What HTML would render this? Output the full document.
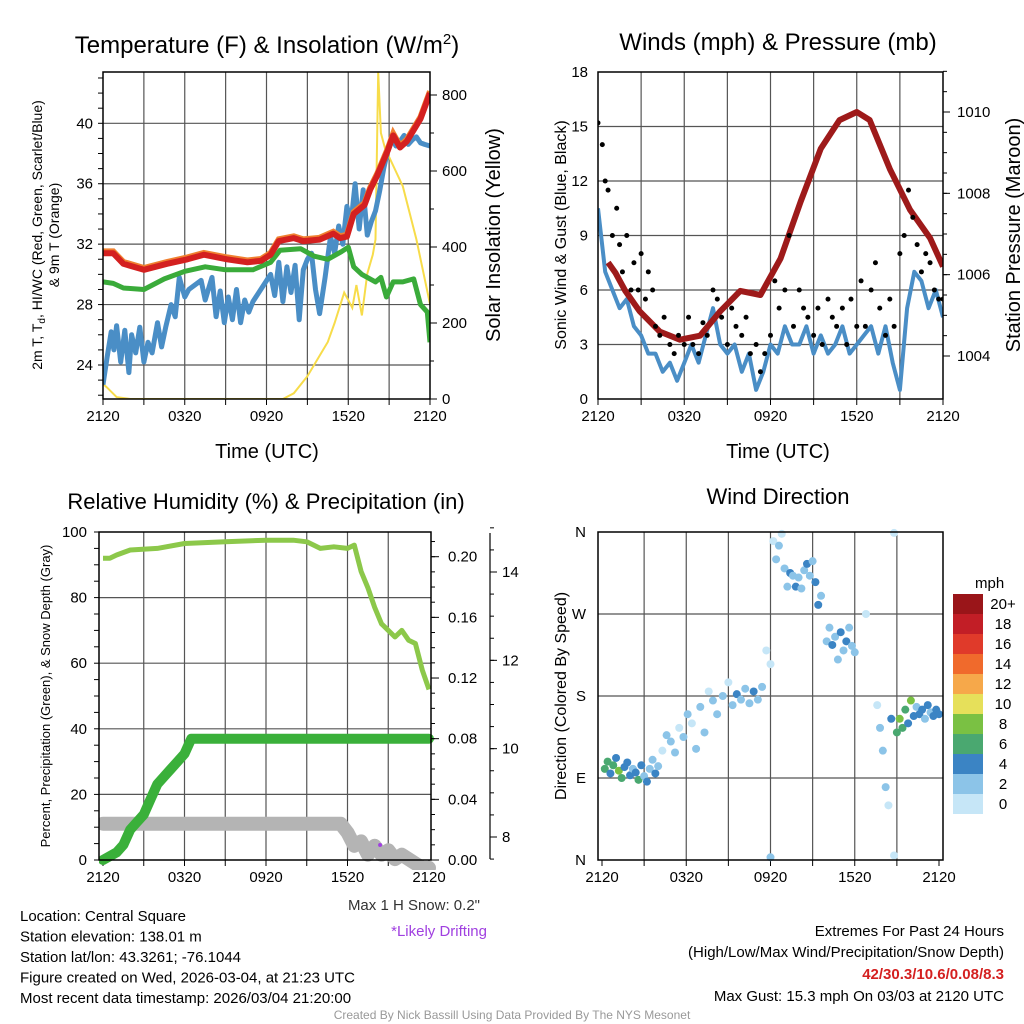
<!DOCTYPE html>
<html><head><meta charset="utf-8"><style>
body{margin:0;background:#fff;}
svg{display:block;font-family:"Liberation Sans",sans-serif;}
</style></head><body>
<svg id="c" width="1024" height="1024" viewBox="0 0 1024 1024" xmlns="http://www.w3.org/2000/svg">
<rect width="1024" height="1024" fill="#fff"/>
</svg>
<script>
// ---------- data ----------
const xTickLabels = ["2120","0320","0920","1520","2120"];
const tempTicks = [24,28,32,36,40];
const solarTicks = [0,200,400,600,800];
const windTicks = [0,3,6,9,12,15,18];
const presTicks = [1004,1006,1008,1010];
const rhTicks = [0,20,40,60,80,100];
const precipTicks = [0,0.04,0.08,0.12,0.16,0.2];
const snowTicks = [8,10,12,14];
const dirTicks = ["N","E","S","W","N"];

const redHours = [0,0.75,1.5,3,4.7,6.2,7.4,9.1,10.6,11.6,12.3,12.9,14,14.7,15.9,16.9,17.4,17.9,18.4,19.2,19.6,20.1,20.9,21.3,21.8,22.3,23.3,24];
const redVals = [31.4,31.4,30.7,30.3,30.7,31.0,31.3,31.0,30.8,30.9,31.3,32.2,32.4,32.2,32.3,32.7,32.4,32.5,34.0,34.6,35.6,36.5,38.2,39.2,38.4,38.8,40.3,42.0];
const greenHours = [0,0.75,1.5,3,4.5,6,7.5,9,11,12.3,13,14.5,15.5,16.5,17.5,18,18.4,19,20,20.4,20.8,21.3,22,22.8,23.3,23.8,24];
const greenVals = [29.5,29.4,29.1,29.0,29.7,30.2,30.5,30.3,30.3,30.8,31.6,31.7,31.2,31.0,31.5,31.8,30.5,30.0,29.5,29.8,28.5,29.5,29.5,29.7,28.0,27.5,25.5];
const blueHours = [0,0.3,0.6,0.8,1.0,1.3,1.6,1.9,2.1,2.4,2.7,3.0,3.3,3.6,4.0,4.3,4.6,5.0,5.3,5.6,6.0,6.3,7.2,7.5,8.0,8.3,8.6,8.9,9.2,9.5,9.8,10.1,10.4,10.7,11.0,12.3,12.6,12.9,13.2,13.5,13.8,14.1,14.4,14.7,15.0,15.3,15.6,15.9,16.3,16.7,17.0,17.3,17.6,17.9,18.2,18.5,18.8,19.1,19.4,19.7,20.0,20.3,20.6,20.9,21.2,21.5,21.8,22.1,22.4,22.7,23.0,23.3,23.6,24];
const blueVals = [22.7,24.5,26.2,25.0,26.6,24.2,26.3,23.5,26.0,24.8,26.5,24.2,25.5,24.8,26.8,25.2,26.5,28.0,27.2,29.8,28.5,29.0,29.6,28.3,29.8,27.2,28.9,26.8,28.5,27.0,29.0,26.8,28.3,27.5,28.2,30.0,28.6,30.8,28.2,30.5,28.8,30.6,27.0,30.3,31.0,31.4,29.0,27.4,29.8,32.5,31.4,33.2,32.0,34.5,33.4,36.0,33.0,35.6,32.6,33.5,34.2,35.5,37.0,38.2,39.0,38.5,38.8,39.2,38.6,38.9,39.1,38.7,38.6,38.5];
const solarHours = [0,0.3,1,2,13.2,14,15,16,16.5,17,17.7,18,18.3,18.6,19,19.4,19.8,20.0,20.2,20.4,20.7,22,23,24];
const solarVals = [40,30,5,0,0,15,60,120,150,200,280,260,240,300,220,330,380,420,860,700,660,560,420,250];

const presHours = [0.7,1.2,1.9,2.9,4.3,5.7,7.1,8.5,9.9,11.3,12.7,14.1,15.5,16.8,18,18.9,20.3,21.7,23.1,24];
const presVals = [1006.3,1006.05,1005.6,1005.1,1004.6,1004.4,1004.5,1005.1,1005.6,1005.5,1006.4,1007.8,1009.1,1009.8,1010.0,1009.8,1008.6,1007.6,1006.9,1006.2];
const windHours = [0,0.5,1,1.5,2,2.5,3,3.5,4,4.5,5,5.5,6,6.5,7,7.5,8,8.5,9,9.5,10,10.5,11,11.5,12,12.5,13,13.5,14,14.5,15,15.5,16,16.5,17,17.5,18,18.5,19,19.5,20,20.5,21,21.5,22,22.5,23,23.5,24];
const windVals = [10.5,7,6,5,5.5,4,3.5,2.5,2.5,1.5,2,1,2,3,2,3.5,5,3,2.5,3,1.5,2.5,0.5,1.5,3,2.5,4,3,3,4,2.5,3.5,2.5,3,4,2.5,3,3.5,4,2.5,4,2,0.5,5,7,6.5,5,6,4.5];
const gustHours = [0,0.3,0.5,0.7,1,1.3,1.5,1.7,2,2.3,2.5,2.8,3,3.3,3.5,3.8,4,4.3,4.6,5,5.3,5.6,6,6.3,6.6,7,7.3,7.6,8,8.3,8.6,9,9.3,9.6,10,10.3,10.6,11,11.3,11.6,12,12.3,12.6,13,13.3,13.6,14,14.3,14.6,15,15.3,15.6,16,16.3,16.6,17,17.3,17.6,18,18.3,18.6,19,19.3,19.6,20,20.3,20.6,21,21.3,21.6,21.9,22.2,22.5,22.8,23.1,23.4,23.7,24];
const gustVals = [15.2,14,12,11.5,9,10.5,8.5,7,9,6,7.5,6,8,5.5,7,6,4,3.5,4.5,3,2.5,3.5,3,4.5,3,2.5,4.2,3.5,6,5.5,4.5,3,5,4,3.5,4.5,2.5,3,1.5,2.5,3.5,6.5,5,6,9,4,6,5,4.5,3.5,5,3,5.5,4.5,4,5,3,5.5,4,6.5,4,6,7.5,5,3.5,5.5,4,8,9,11.5,10,8.5,7,8,7.5,6,5.5,5.5];

const rhHours = [0,0.5,1,2,4,6,9,12,14,15,16,17,18,18.5,19,19.5,20,20.5,21,21.5,22,22.5,23,23.5,24];
const rhVals = [92,92,93,94.5,95,96.5,97,97.5,97.5,97,95,95.5,95,96,88,83,77,72,70,68,70,67,66,58,52];
const precipHours = [0,1,1.5,2,2.5,3,3.5,4,4.5,5,5.5,6,6.5,24];
const precipVals = [0,0.005,0.01,0.02,0.025,0.03,0.04,0.05,0.055,0.06,0.065,0.07,0.08,0.08];
const snowHours = [0,17.5,18,18.5,19,19.5,20,20.5,21,21.5,22,22.5,23,23.5,24];
const snowVals = [8.3,8.3,8.1,7.8,7.9,7.6,7.8,7.6,7.7,7.5,7.6,7.5,7.4,7.3,7.3];

const dirHours = [0.2,0.4,0.6,0.8,1.0,1.2,1.4,1.6,1.8,2.0,2.2,2.4,2.6,2.8,3.0,3.2,3.4,3.6,3.8,4.0,4.3,4.6,4.9,5.2,5.5,5.8,6.1,6.4,6.7,7.0,7.3,7.6,7.9,8.2,8.6,9.0,9.3,9.6,9.9,10.2,10.5,10.8,11.1,11.4,11.7,12.0,12.0,12.2,12.4,12.6,12.8,13.0,13.2,13.4,13.6,13.8,14.0,14.2,14.4,14.6,14.8,15.0,15.2,15.4,15.6,16.0,16.2,16.4,16.6,16.8,17.0,17.2,17.4,17.6,17.8,18.0,18.8,19.6,19.8,20.0,20.2,20.4,20.6,20.8,20.8,21.0,21.2,21.4,21.6,21.8,22.0,22.2,22.4,22.6,22.8,23.0,23.2,23.4,23.6,23.8,24.0];
const dirVals = [100,108,95,104,112,98,90,102,107,93,100,96,88,104,92,86,100,110,95,103,120,137,130,118,145,135,160,150,122,168,140,185,175,160,180,195,170,182,176,188,172,185,176,190,230,3,215,350,330,345,358,320,300,315,312,300,310,298,318,325,312,328,305,280,290,240,255,236,245,220,250,230,240,255,235,228,270,170,145,120,80,60,155,359,5,140,155,145,165,150,175,158,168,160,165,155,170,162,158,165,160,162];
const dirSpeeds = [6,7,4,6,5,8,7,4,5,4,3,5,6,4,3,4,3,2,4,2,1,3,2,2,1,3,2,1,2,3,2,1,2,3,2,1,3,4,3,2,3,4,3,2,1,2,0,1,2,2,1,3,2,4,3,4,3,2,3,4,3,2,4,4,3,2,3,4,3,2,4,3,4,2,2,3,1,1,2,3,2,1,4,0,1,6,8,6,7,5,8,4,3,4,5,3,4,3,5,4,4];
const colorLabels = ["20+","18","16","14","12","10","8","6","4","2","0"];
const colorBins = ["#9a1519","#c21e26","#e03a2a","#f06a2c","#f6a84a","#e6e05a","#7ac143","#4aa870","#3b84c4","#8cc4e8","#c6e6f7"];

// ---------- helpers ----------
const svg = document.getElementById('c');
const NS = "http://www.w3.org/2000/svg";
function mk(tag, attrs, parent){const e=document.createElementNS(NS,tag);for(const k in attrs)e.setAttribute(k,attrs[k]);(parent||svg).appendChild(e);return e;}
function txt(x,y,s,size,anchor,extra){const t=mk('text',Object.assign({x:x,y:y,'font-size':size,'text-anchor':anchor||'middle',fill:'#000'},extra||{}));t.textContent=s;return t;}
function lin(a0,a1,p0,p1){return v=>p0+(v-a0)*(p1-p0)/(a1-a0);}
function pathFrom(xs,ys,X,Y){return xs.map((h,i)=>(i?'L':'M')+X(h).toFixed(1)+','+Y(ys[i]).toFixed(1)).join('');}
function speedColor(s){const idx=Math.min(10,Math.floor(s/2));return colorBins[10-idx];}

function frame(g,x0,x1,y0,y1,X){
  for(let h=3;h<24;h+=3){mk('line',{x1:X(h),x2:X(h),y1:y0,y2:y1,stroke:'#555','stroke-width':1.2},g);}
  xTickLabels.forEach((s,i)=>{const t=txt(X(i*6),y1+22,s,15,'middle',{});});
  for(let h=0;h<=24;h+=3){mk('line',{x1:X(h),x2:X(h),y1:y1,y2:y1+6,stroke:'#000','stroke-width':1},g);}
}
function border(g,x0,x1,y0,y1){mk('rect',{x:x0,y:y0,width:x1-x0,height:y1-y0,fill:'none',stroke:'#000','stroke-width':1.5},g);}

// ---------- Panel 1 ----------
(function(){
  const x0=103,x1=430,y0=72,y1=399;
  const X=lin(0,24,x0,x1), Y=lin(24,40,365,123.3), S=lin(0,800,399,95);
  const g=mk('g',{});
  
  
  const cp=mk('clipPath',{id:'cp1'},g);mk('rect',{x:x0,y:y0,width:x1-x0,height:y1-y0},cp);
  tempTicks.forEach(v=>{mk('line',{x1:x0,x2:x1,y1:Y(v),y2:Y(v),stroke:'#555','stroke-width':1.2},g);txt(x0-10,Y(v)+5,String(v),15,'end');});
  for(let v=22;v<=43;v++){mk('line',{x1:x0-5,x2:x0,y1:Y(v),y2:Y(v),stroke:'#000','stroke-width':1},g);}
  frame(g,x0,x1,y0,y1,X);
  const d=mk('g',{'clip-path':'url(#cp1)'},g);
  const sol=mk('path',{d:pathFrom(solarHours,solarVals,X,S),fill:'none',stroke:'#f7dc4a','stroke-width':2},d);
  
  const bl=mk('path',{d:pathFrom(blueHours,blueVals,X,Y),fill:'none',stroke:'#4a8ec6','stroke-width':5,'stroke-linejoin':'round'},d);
  
  const gr=mk('path',{d:pathFrom(greenHours,greenVals,X,Y),fill:'none',stroke:'#3aab3a','stroke-width':5,'stroke-linejoin':'round'},d);
  
  const or=mk('path',{d:pathFrom(redHours,redVals.map(v=>v+0.12),X,Y),fill:'none',stroke:'#f08030','stroke-width':6},d);
  
  const rd=mk('path',{d:pathFrom(redHours,redVals,X,Y),fill:'none',stroke:'#d42020','stroke-width':6,'stroke-linejoin':'round'},d);
  
  solarTicks.forEach(v=>{mk('line',{x1:x1,x2:x1+7,y1:S(v),y2:S(v),stroke:'#000'},g);txt(x1+12,S(v)+5,String(v),15,'start');});
  for(let v=100;v<=800;v+=200){mk('line',{x1:x1,x2:x1+4,y1:S(v),y2:S(v),stroke:'#000'},g);}
  border(g,x0,x1,y0,y1);
  const t=txt(267,53,'',24);t.innerHTML='Temperature (F) &amp; Insolation (W/m<tspan dy="-9" font-size="15">2</tspan><tspan dy="9">)</tspan>';
  
  const xl=txt(267,458,'Time (UTC)',20);
  const yl=txt(0,0,'',14,'middle',{transform:'translate(42,235) rotate(-90)'});
  yl.innerHTML='<tspan x="0" dy="0">2m T, T<tspan font-size="10" dy="3">d</tspan><tspan dy="-3">, HI/WC (Red, Green, Scarlet/Blue)</tspan></tspan><tspan x="0" dy="17">&amp; 9m T (Orange)</tspan>';
  
  const yr=txt(0,0,'Solar Insolation (Yellow)',20,'middle',{transform:'translate(500,235) rotate(-90)'});
  
})();

// ---------- Panel 2 ----------
(function(){
  const x0=598,x1=943,y0=72,y1=399;
  const X=lin(0,24,x0,x1), Y=lin(0,18,399,72), P=lin(1004,1010,356,112);
  const g=mk('g',{});
  
  
  const cp=mk('clipPath',{id:'cp2'},g);mk('rect',{x:x0,y:y0,width:x1-x0,height:y1-y0},cp);
  windTicks.forEach(v=>{if(v>0&&v<18)mk('line',{x1:x0,x2:x1,y1:Y(v),y2:Y(v),stroke:'#555','stroke-width':1.2},g);txt(x0-10,Y(v)+5,String(v),15,'end');});
  frame(g,x0,x1,y0,y1,X);
  const d=mk('g',{'clip-path':'url(#cp2)'},g);
  const w=mk('path',{d:pathFrom(windHours,windVals,X,Y),fill:'none',stroke:'#4a8ec6','stroke-width':4,'stroke-linejoin':'round'},d);
  
  const p=mk('path',{d:pathFrom(presHours,presVals,X,P),fill:'none',stroke:'#9e1a1a','stroke-width':6,'stroke-linejoin':'round'},d);
  
  gustHours.forEach((h,i)=>{const c=mk('circle',{cx:X(h),cy:Y(gustVals[i]),r:2.5,fill:'#000'},d);
    });
  presTicks.forEach(v=>{mk('line',{x1:x1,x2:x1+7,y1:P(v),y2:P(v),stroke:'#000'},g);txt(x1+14,P(v)+5,String(v),15,'start');});
  for(let v=1004.5;v<=1011;v+=0.5){mk('line',{x1:x1,x2:x1+4,y1:P(v),y2:P(v),stroke:'#000'},g);}
  border(g,x0,x1,y0,y1);
  const t=txt(778,50,'Winds (mph) & Pressure (mb)',24);
  const xl=txt(778,458,'Time (UTC)',20);
  const yl=txt(0,0,'Sonic Wind & Gust (Blue, Black)',16,'middle',{transform:'translate(566,235) rotate(-90)'});
  
  const yr=txt(0,0,'Station Pressure (Maroon)',20,'middle',{transform:'translate(1020,235) rotate(-90)'});
  
})();

// ---------- Panel 3 ----------
(function(){
  const x0=99,x1=431,y0=532,y1=860;
  const X=lin(0,24,x0+4,x1-2), Y=lin(0,100,860,532), R=lin(0,0.2,860,556.7), N=lin(8,14,837,572);
  const g=mk('g',{});
  
  
  const cp=mk('clipPath',{id:'cp3'},g);mk('rect',{x:x0,y:y0-10,width:x1-x0+10,height:y1-y0+20},cp);
  rhTicks.forEach(v=>{if(v>0&&v<100)mk('line',{x1:x0,x2:x1,y1:Y(v),y2:Y(v),stroke:'#555','stroke-width':1.2},g);txt(x0-12,Y(v)+5,String(v),15,'end');});
  for(let v=0;v<=100;v+=5){mk('line',{x1:x0-5,x2:x0,y1:Y(v),y2:Y(v),stroke:'#000'},g);}
  frame(g,x0,x1,y0,y1,X);
  const d=mk('g',{'clip-path':'url(#cp3)'},g);
  const sn=mk('path',{d:pathFrom(snowHours,snowVals,X,N),fill:'none',stroke:'#b4b4b4','stroke-width':14,'stroke-linecap':'round','stroke-linejoin':'round'},d);
  
  const pr=mk('path',{d:pathFrom(precipHours,precipVals,X,R),fill:'none',stroke:'#3ab03a','stroke-width':10,'stroke-linecap':'round','stroke-linejoin':'round'},d);
  
  const rh=mk('path',{d:pathFrom(rhHours,rhVals,X,Y),fill:'none',stroke:'#8cc84a','stroke-width':5,'stroke-linejoin':'round'},d);
  
  const pd=mk('circle',{cx:X(20.4),cy:845,r:2,fill:'#a040e0'},g);
  
  border(g,x0,x1,y0,y1);
  precipTicks.forEach(v=>{mk('line',{x1:x1,x2:x1+8,y1:R(v),y2:R(v),stroke:'#000'},g);txt(x1+17,R(v)+5,v.toFixed(2),15,'start');});
  for(let v=0.01;v<0.215;v+=0.01){mk('line',{x1:x1,x2:x1+4,y1:R(v),y2:R(v),stroke:'#000'},g);}
  mk('line',{x1:490,x2:490,y1:533,y2:859,stroke:'#000','stroke-width':1.2},g);
  snowTicks.forEach(v=>{mk('line',{x1:490,x2:497,y1:N(v),y2:N(v),stroke:'#000'},g);txt(502,N(v)+5,String(v),15,'start');});
  for(let v=7.5;v<=15;v+=0.5){mk('line',{x1:490,x2:494,y1:N(v),y2:N(v),stroke:'#000'},g);}
  const t=txt(266,509,'Relative Humidity (%) & Precipitation (in)',22);
  const yl=txt(0,0,'Percent, Precipitation (Green), & Snow Depth (Gray)',13,'middle',{transform:'translate(50,696) rotate(-90)'});
  
  const ms=txt(480,910,'Max 1 H Snow: 0.2"',15,'end',{fill:'#333'});
  const dr=txt(487,936,'*Likely Drifting',15,'end',{fill:'#a040e0'});
})();

// ---------- Panel 4 ----------
(function(){
  const x0=598,x1=943,y0=532,y1=860;
  const X=lin(0,24,x0+4,x1-4), D=lin(0,360,860,532);
  const g=mk('g',{});
  
  
  dirTicks.forEach((s,i)=>{const v=i*90;if(i>0&&i<4)mk('line',{x1:x0,x2:x1,y1:D(v),y2:D(v),stroke:'#555','stroke-width':1.2},g);txt(x0-12,D(v)+5,s,15,'end');});
  frame(g,x0,x1,y0,y1,X);
  dirHours.forEach((h,i)=>{const c=mk('circle',{cx:X(h),cy:D(dirVals[i]),r:4,fill:speedColor(dirSpeeds[i])},g);
    });
  border(g,x0,x1,y0,y1);
  const t=txt(778,504,'Wind Direction',22);
  const yl=txt(0,0,'Direction (Colored By Speed)',16,'middle',{transform:'translate(566,696) rotate(-90)'});
  
  const lg=mk('g',{},g);
  txt(990,588,'mph',15,'start',{}).setAttribute('x','975');
  colorBins.forEach((c,i)=>{mk('rect',{x:953,y:594+i*20,width:30,height:20,fill:c},lg);txt(1003,609+i*20,colorLabels[i],15,'middle');});
})();

// ---------- footer ----------
(function(){
  const lines=["Location: Central Square","Station elevation: 138.01 m","Station lat/lon: 43.3261; -76.1044","Figure created on Wed, 2026-03-04, at 21:23 UTC","Most recent data timestamp: 2026/03/04 21:20:00"];
  lines.forEach((s,i)=>{const t=txt(20,921+i*20.5,s,15,'start');});
  const r1=txt(1004,936,'Extremes For Past 24 Hours',15,'end');
  const r2=txt(1004,957,'(High/Low/Max Wind/Precipitation/Snow Depth)',15,'end');
  const r3=txt(1004,979,'42/30.3/10.6/0.08/8.3',15,'end',{fill:'#d42020','font-weight':'bold'});
  const r4=txt(1004,1001,'Max Gust: 15.3 mph On 03/03 at 2120 UTC',15,'end');
  const cr=txt(512,1019,'Created By Nick Bassill Using Data Provided By The NYS Mesonet',12,'middle',{fill:'#999'});
})();
</script>
</body></html>
